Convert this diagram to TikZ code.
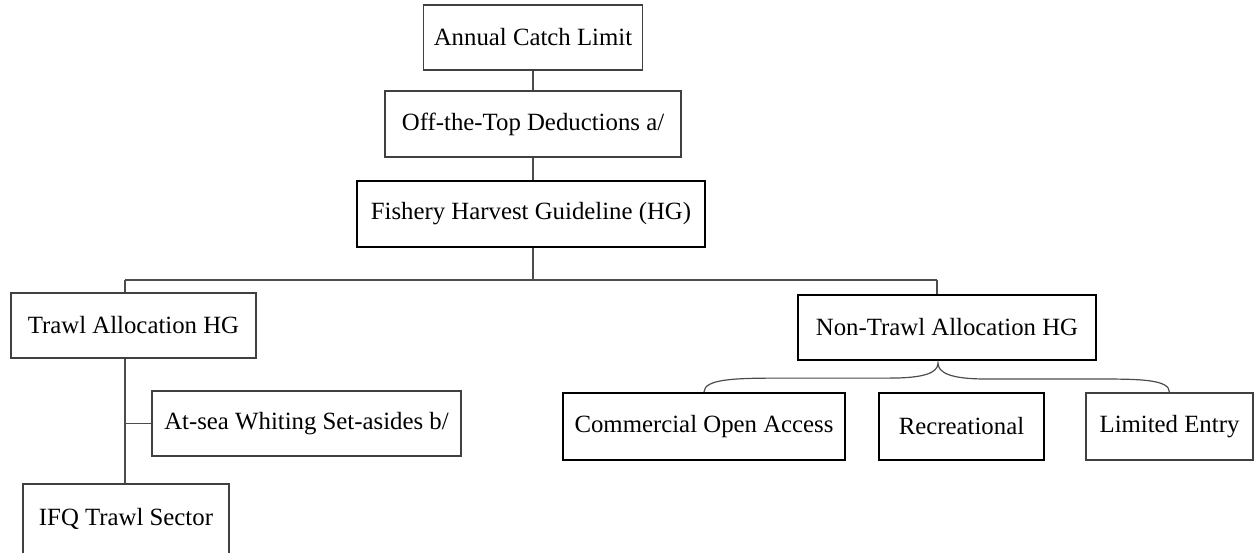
\documentclass[tikz,border=0pt]{standalone}
\usepackage{fontspec}
\setmainfont{Liberation Serif}
\usetikzlibrary{shapes,arrows}

\begin{document}
\begin{tikzpicture}[x=0.5pt, y=-0.5pt]
\tikzstyle{vertexr}=[rectangle, draw=black!75, line width=0.6pt, inner sep=2pt, font=\fontsize{12.4}{15}\selectfont]
\tikzstyle{vertexb}=[vertexr, draw=black, line width=0.9pt]
\tikzstyle{drawstyle}=[draw=black!70, line width=0.6pt]

\useasboundingbox (0,0) rectangle (1254,552);

\node[vertexr, minimum width=109.5pt, minimum height=32.5pt] (G5x0) at (533,37.5) {Annual Catch Limit};
\node[vertexr, minimum width=148pt, minimum height=33pt] (G5x1) at (533,124) {Off-the-Top Deductions a/};
\draw[drawstyle] (G5x0) -- (G5x1);
\node[vertexb, minimum width=174pt, minimum height=33pt] (G5x2) at (531,214) {Fishery Harvest Guideline (HG)};
\draw[drawstyle] (G5x1) -- (G5x1 |- G5x2.north);
\coordinate (J5x2) at (533,280);
\coordinate (J0x3) at (125,280);
\coordinate (J9x3) at (937,280);
\draw[drawstyle] (J5x2 |- G5x2.south) -- (J5x2);
\draw[drawstyle] (J0x3) -- (J9x3);
\node[vertexr, minimum width=122.5pt, minimum height=32.5pt] (G0x3) at (133.5,325.5) {Trawl Allocation HG};
\draw[drawstyle] (J0x3) -- (J0x3 |- G0x3.north);
\node[vertexb, minimum width=149pt, minimum height=32.5pt] (G9x3) at (947,327.5) {Non-Trawl Allocation HG};
\draw[drawstyle] (J9x3) -- (J9x3 |- G9x3.north);
\node[vertexr, minimum width=154.5pt, minimum height=32.5pt] (G3x4) at (306.5,423.5) {At-sea Whiting Set-asides b/};
\node[vertexr, minimum width=103pt, minimum height=35pt] (G1x5) at (126,519) {IFQ Trawl Sector};
\draw[drawstyle] (J0x3 |- G0x3.south) -- (J0x3 |- G1x5.north);
\draw[drawstyle] (J0x3 |- G3x4.west) -- (G3x4.west);
\node[vertexb, minimum width=141pt, minimum height=33.5pt] (G7x4) at (704,426.5) {Commercial Open Access};
\node[vertexb, minimum width=82.5pt, minimum height=33.5pt] (G9x4) at (961.5,426.5) {Recreational};
\node[vertexr, minimum width=83.5pt, minimum height=33.5pt] (G11x4) at (1169.5,426.5) {Limited Entry};
\coordinate (B9x4) at (938,363);
\draw[drawstyle] (G7x4.north) .. controls +(0,-13) and +(-45,0) .. ++(75,-14) -- ++(110,0)
  .. controls +(35,0) and +(0,10) .. (B9x4)
  .. controls +(0,10) and +(-35,0) .. ++(48,16) -- ++(110,0)
  .. controls +(45,0) and +(0,-13) .. (G11x4.north);
\end{tikzpicture}
\end{document}
